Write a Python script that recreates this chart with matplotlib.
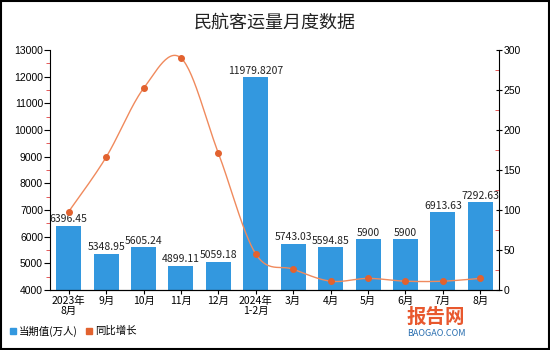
import matplotlib
matplotlib.use("Agg")
import matplotlib.pyplot as plt
import numpy as np
from matplotlib.ticker import MultipleLocator
from matplotlib.patches import Rectangle

plt.rcParams['font.family'] = ['Noto Sans CJK SC', 'DejaVu Sans']

categories = ["2023年\n8月", "9月", "10月", "11月", "12月", "2024年\n1-2月",
              "3月", "4月", "5月", "6月", "7月", "8月"]
passengers = [6396.45, 5348.95, 5605.24, 4899.11, 5059.18, 11979.8207,
              5743.03, 5594.85, 5900, 5900, 6913.63, 7292.63]
bar_labels = ["6396.45", "5348.95", "5605.24", "4899.11", "5059.18", "11979.8207",
              "5743.03", "5594.85", "5900", "5900", "6913.63", "7292.63"]
growth = [98, 166, 252, 290, 171, 45, 26, 11, 14.5, 11, 11, 14.5]

bar_color = "#3398DF"
line_color = "#F08A5D"
marker_color = "#E2622F"

fig = plt.figure(figsize=(5.5, 3.5), dpi=100)
ax = fig.add_axes([50/550, 60/350, 449/550, 240/350])
x = np.arange(len(categories))
ax.bar(x, passengers, width=0.67, color=bar_color, zorder=2)
ax.set_xlim(-0.5, len(categories) - 0.5)
ax.set_ylim(4000, 13000)
ax.yaxis.set_major_locator(MultipleLocator(1000))
ax.yaxis.set_minor_locator(MultipleLocator(500))
ax.set_xticks(x)
ax.set_xticklabels(categories, fontsize=7.5, linespacing=1.05)
ax.tick_params(axis='x', length=3, pad=1)
ax.tick_params(axis='y', which='major', length=4, labelsize=7.5, pad=1)
ax.tick_params(axis='y', which='minor', length=3, color='#E04040')
for lab in ax.get_yticklabels():
    lab.set_family(['Liberation Sans', 'DejaVu Sans'])
for s in ['top', 'right']:
    ax.spines[s].set_visible(False)
for xi, v, t in zip(x, passengers, bar_labels):
    ax.text(xi, v + 60, t, ha='center', va='bottom', fontsize=7.5, color='#222222', zorder=5)

ax2 = ax.twinx()
ax2.set_ylim(0, 300)
ax2.yaxis.set_major_locator(MultipleLocator(50))
ax2.yaxis.set_minor_locator(MultipleLocator(25))
ax2.tick_params(axis='y', which='major', length=4, labelsize=7.5, pad=1, direction='inout')
ax2.tick_params(axis='y', which='minor', length=3, color='#E04040', direction='in')
for lab in ax2.get_yticklabels():
    lab.set_family(['Liberation Sans', 'DejaVu Sans'])
for s in ['top', 'left']:
    ax2.spines[s].set_visible(False)

# smooth curve (Catmull-Rom rendering through the data points)
g = np.array(growth, dtype=float)
xs, ys = [], []
P = np.concatenate([[g[0]], g, [g[-1]]])
X = np.concatenate([[x[0]], x, [x[-1]]]).astype(float)
for i in range(1, len(P) - 2):
    t = np.linspace(0, 1, 30)
    for arr, out in ((X, xs), (P, ys)):
        p0, p1, p2, p3 = arr[i-1], arr[i], arr[i+1], arr[i+2]
        out.extend(0.5 * ((2*p1) + (-p0 + p2)*t + (2*p0 - 5*p1 + 4*p2 - p3)*t**2 + (-p0 + 3*p1 - 3*p2 + p3)*t**3))
ax2.plot(xs, ys, color=line_color, lw=1.0, zorder=3)
ax2.plot(x, g, 'o', color=marker_color, ms=4, zorder=4)

fig.text(0.5, 0.935, "民航客运量月度数据", ha='center', va='center', fontsize=13, color='#222222')

# legend
fig.patches.append(Rectangle((10/550, (350-334)/350), 6/550, 6/350, transform=fig.transFigure, color=bar_color))
fig.text(19/550, (350-331)/350, "当期值(万人)", fontsize=7.5, va='center', ha='left')
fig.patches.append(Rectangle((86/550, (350-334)/350), 6/550, 6/350, transform=fig.transFigure, color=marker_color))
fig.text(95/550, (350-331)/350, "同比增长", fontsize=7.5, va='center', ha='left')

# watermark
fig.text(436/550, (350-317)/350, "报告网", fontsize=14, color='#E8582E', fontweight='bold', va='center', ha='center')
fig.text(436/550, (350-333)/350, "BAOGAO.COM", fontsize=6.5, color='#2A6FB0', va='center', ha='center')

fig.patches.append(Rectangle((0.001, 0.002), 0.997, 0.996, transform=fig.transFigure, fill=False, ec='black', lw=1.5))
fig.savefig("out.png", dpi=100)
